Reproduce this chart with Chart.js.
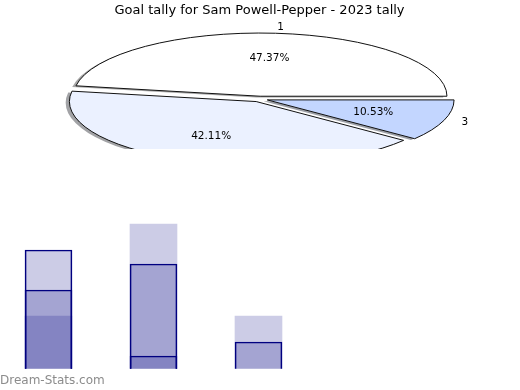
<!DOCTYPE html>
<html><head><meta charset="utf-8">
<script src="https://cdn.jsdelivr.net/npm/chart.js@4"></script>
<style>
html,body{margin:0;padding:0;background:#fff;}
#wrap{position:relative;width:520px;height:390px;overflow:hidden;background:#fff;}
#pieShadow,#pie{position:absolute;left:0;top:0;}
#bar{position:absolute;left:0;top:149px;}
#wm{position:absolute;left:0;top:373px;font:12px "DejaVu Sans";color:#8c8c8c;white-space:nowrap;}
</style></head><body>
<div id="wrap">
<canvas id="bar" width="520" height="241"></canvas>
<canvas id="pieShadow" width="520" height="149"></canvas>
<canvas id="pie" width="520" height="149"></canvas>
<div id="wm">Dream-Stats.com</div>
</div>
<script>
const titleText = 'Goal tally for Sam Powell-Pepper - 2023 tally';
const pieLabels = ['1', '2', '3'];
const pieValues = [9, 8, 2];
const pieColors = ['#ffffff', '#ebf1ff', '#c3d6ff'];
const shadowColors = ['rgba(77,77,77,0.5)', 'rgba(70,72,77,0.5)', 'rgba(58,64,77,0.5)'];

const barX = [1, 2, 3];
const seriesA = [9, 8, 2];
const seriesB = [6, 1, null];
const seriesC = [4, 11, 4];

const R = 186.8, K = 63.2 / 186.8, EXPLODE = 0.044, SHADOW = 0.02;

function ellipsePlugin(isShadow) {
  return {
    id: 'ellipse',
    beforeDatasetsDraw(chart) {
      const ctx = chart.ctx;
      const meta = chart.getDatasetMeta(0);
      const cx = meta.data[0].x, cy = meta.data[0].y;
      meta.data.forEach(el => {
        if (!el._wrapped) {
          const orig = el.draw;
          el.draw = function (c, area) {
            const mid = (this.startAngle + this.endAngle) / 2;
            const e = EXPLODE * this.outerRadius;
            c.save();
            c.translate(Math.cos(mid) * e, Math.sin(mid) * e);
            orig.call(this, c, area);
            c.restore();
          };
          el._wrapped = true;
        }
      });
      ctx.save();
      ctx.translate(cx + (isShadow ? -SHADOW * R : 0), cy + (isShadow ? SHADOW * R * K : 0));
      ctx.scale(1, -K);
      ctx.translate(-cx, -cy);
      ctx.stroke = function () {
        const t = ctx.getTransform();
        ctx.setTransform(1, 0, 0, 1, 0, 0);
        CanvasRenderingContext2D.prototype.stroke.call(ctx);
        ctx.setTransform(t);
      };
    },
    afterDatasetsDraw(chart) {
      const ctx = chart.ctx;
      delete ctx.stroke;
      ctx.restore();
      if (isShadow) return;
      const meta = chart.getDatasetMeta(0);
      const total = pieValues.reduce((a, b) => a + b, 0);
      ctx.save();
      ctx.fillStyle = '#000';
      ctx.font = '10.5px "DejaVu Sans"';
      ctx.textBaseline = 'middle';
      meta.data.forEach((el, i) => {
        const mid = (el.startAngle + el.endAngle) / 2;
        const r = el.outerRadius;
        const e = EXPLODE * r;
        const c = Math.cos(mid), s = Math.sin(mid);
        const ex = el.x + e * c, ey = el.y - K * e * s;
        const lx = ex + 1.1 * r * c, ly = ey - K * 1.1 * r * s;
        ctx.textAlign = lx > el.x ? 'left' : 'right';
        ctx.fillText(pieLabels[i], lx, ly);
        const px = ex + 0.6 * r * c, py = ey - K * 0.6 * r * s;
        ctx.textAlign = 'center';
        ctx.fillText((pieValues[i] / total * 100).toFixed(2) + '%', px, py);
      });
      ctx.restore();
    }
  };
}

function pieConfig(isShadow) {
  return {
    type: 'pie',
    data: {
      labels: pieLabels,
      datasets: [{
        data: pieValues,
        backgroundColor: isShadow ? shadowColors : pieColors,
        borderColor: isShadow ? 'rgba(0,0,0,0)' : '#111',
        borderWidth: isShadow ? 0 : 1,
        offset: 0
      }]
    },
    options: {
      responsive: false, animation: false, devicePixelRatio: 1,
      rotation: 90, radius: R,
      layout: { padding: { left: 0, right: 1, top: 0, bottom: 0 } },
      plugins: {
        legend: { display: false },
        tooltip: { enabled: false },
        title: {
          display: true, text: titleText,
          color: isShadow ? 'rgba(0,0,0,0)' : '#000',
          font: { family: 'DejaVu Sans', size: 13, weight: 'normal', lineHeight: 1.154 },
          padding: { top: 3, bottom: 31 }
        }
      }
    },
    plugins: [ellipsePlugin(isShadow)]
  };
}

new Chart(document.getElementById('pieShadow'), pieConfig(true));
new Chart(document.getElementById('pie'), pieConfig(false));

// snap bar edges to the pixel grid (like the original renderer does)
const snapPlugin = {
  id: 'snap',
  afterDatasetsUpdate(chart) {
    chart.data.datasets.forEach((ds, di) => {
      chart.getDatasetMeta(di).data.forEach(el => {
        const w = el.width;
        el.x = Math.round(el.x - w / 2) + w / 2;
        el.y = Math.round(el.y);
        el.base = Math.round(el.base);
      });
    });
  }
};

const fill = 'rgba(0,0,128,0.2)';
function pts(arr) { return barX.map((x, i) => ({ x: x, y: arr[i] })); }
new Chart(document.getElementById('bar'), {
  type: 'bar',
  data: {
    datasets: [
      { data: pts(seriesA), backgroundColor: fill, borderColor: '#000080', borderWidth: 1, grouped: false, barThickness: 47, borderSkipped: 'start' },
      { data: pts(seriesB), backgroundColor: fill, borderColor: '#000080', borderWidth: 1, grouped: false, barThickness: 47, borderSkipped: 'start' },
      { data: pts(seriesC), backgroundColor: fill, borderWidth: 0, grouped: false, barThickness: 47 }
    ]
  },
  options: {
    responsive: false, animation: false, devicePixelRatio: 1,
    layout: { padding: { left: 0, right: 0, top: 0, bottom: 21.3 } },
    scales: {
      x: { type: 'linear', min: 0.535, max: 5.487, offset: false, display: false },
      y: { min: 0, max: 16.71, display: false }
    },
    plugins: { legend: { display: false }, tooltip: { enabled: false } }
  },
  plugins: [snapPlugin]
});
</script>
</body></html>
